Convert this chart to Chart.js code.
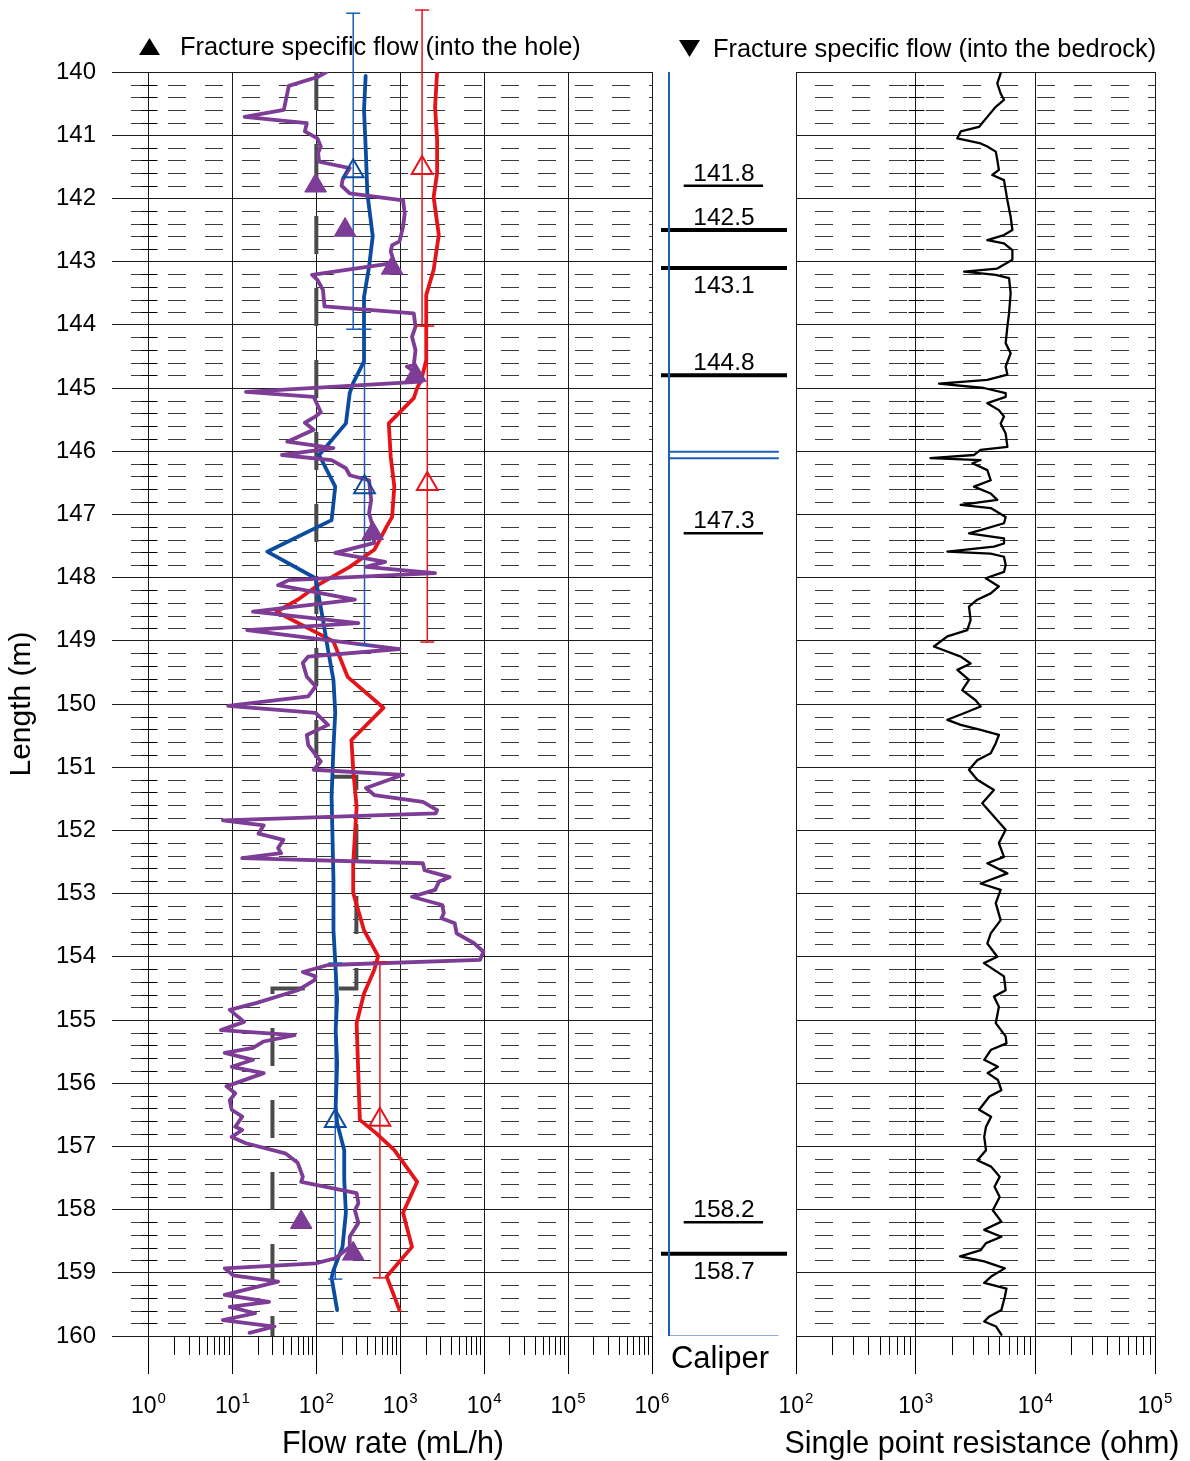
<!DOCTYPE html>
<html><head><meta charset="utf-8">
<script src="https://cdn.jsdelivr.net/npm/chart.js@4.4.1/dist/chart.umd.min.js"></script>
<style>
html,body{margin:0;padding:0;background:#fff;}
#wrap{position:relative;width:1190px;height:1461px;overflow:hidden;background:#fff;}
canvas{position:absolute;top:0;}
</style></head><body>
<div id="wrap">
<canvas id="cFlow" width="680" height="1461" style="left:0px"></canvas>
<canvas id="cCal" width="140" height="1461" style="left:655px"></canvas>
<canvas id="cSpr" width="535" height="1461" style="left:655px"></canvas>
</div>
<script>
// ---------------- DATA ----------------
const lengthTicks = [140,141,142,143,144,145,146,147,148,149,150,151,152,153,154,155,156,157,158,159,160];
const flowTickExp = [0,1,2,3,4,5,6];
const sprTickExp = [2,3,4,5];

const purpleDepth = [140.00,140.08,140.22,140.60,140.71,140.81,140.94,141.05,141.18,141.28,141.42,141.52,141.71,141.80,141.92,142.03,142.24,142.45,142.68,142.74,142.84,143.02,143.21,143.29,143.45,143.71,143.82,144.03,144.19,144.40,144.64,144.66,144.74,144.90,145.06,145.14,145.38,145.45,145.55,145.66,145.85,145.95,146.06,146.14,146.27,146.38,146.46,146.77,146.98,147.19,147.45,147.61,147.75,147.83,147.93,148.04,148.12,148.35,148.54,148.72,148.83,149.13,149.25,149.35,149.57,149.72,149.88,150.03,150.14,150.33,150.49,150.65,150.91,151.04,151.12,151.33,151.44,151.55,151.68,151.73,151.84,151.92,152.05,152.15,152.28,152.36,152.44,152.52,152.63,152.74,152.81,152.94,153.05,153.18,153.31,153.39,153.47,153.63,153.79,153.92,154.05,154.13,154.24,154.31,154.37,154.53,154.73,154.84,155.03,155.16,155.24,155.34,155.44,155.52,155.63,155.74,155.84,156.05,156.16,156.27,156.42,156.53,156.69,156.74,156.85,156.95,157.11,157.26,157.48,157.56,157.74,157.90,158.01,158.21,158.43,158.59,158.77,158.85,158.93,159.04,159.14,159.35,159.46,159.54,159.64,159.75,159.85,159.95];
const purpleFlow = [132,103,47,41,14,77,73,103,113,105,108,250,205,200,250,1080,1130,1080,980,800,770,850,89,103,120,125,1450,1520,1380,1520,1450,1200,1450,1780,14.5,93,113,98,73,93,45,160,39,152,225,250,425,450,425,470,490,168,660,390,2600,47,35,288,17.6,317,15,980,80,69,77,98,80,8.9,98,138,77,80,113,93,1080,390,490,1860,2750,2650,7.7,23.6,20.5,40.5,35,38,13.1,1860,1950,3870,2900,2600,1380,3170,3300,3100,4460,4700,7670,9800,8900,138,69,98,95,60,19.5,9.3,13.8,7.3,55,23.6,17.6,8.1,17.6,9.8,23.6,8.5,10.8,9.3,9.8,13.1,10.8,13.1,9.8,14.5,42.6,60,69,66,302,317,288,317,250,250,168,98,8.1,10.2,35,8.1,27.3,9.3,18.6,7.7,31.7,16];

const blueDepth = [140.06,140.60,141.30,141.92,142.60,143.08,143.56,144.58,144.92,145.08,145.56,146.06,146.56,147.09,147.59,148.01,148.67,149.15,149.62,150.14,150.68,151.47,152.78,153.58,154.08,154.68,155.16,155.68,156.37,156.63,157.06,157.53,158.05,158.59,158.96,159.08,159.59];
const blueFlow = [387,370,390,405,470,425,370,370,275,250,225,108,168,152,26,98,120,138,160,168,160,152,160,160,168,177,170,177,170,177,215,215,225,205,160,152,177];

const redDepth = [140.00,140.55,141.07,141.60,141.98,142.58,143.13,143.53,144.03,144.56,144.87,145.00,145.16,145.56,146.09,146.56,147.04,147.19,147.45,147.56,147.83,148.09,148.35,148.54,149.01,149.57,150.06,150.57,151.04,151.63,152.52,152.99,153.58,153.99,154.21,154.58,155.05,156.58,156.79,157.06,157.56,158.05,158.59,159.06,159.59];
const redFlow = [2750,2600,2750,2750,2500,2880,2500,2040,2040,2040,1780,1590,1450,730,770,850,800,690,545,490,250,113,60,33.5,160,236,630,262,275,302,275,275,370,545,490,370,302,330,515,850,1590,1080,1380,690,980];

const limitDepth = [140, 151.15, 151.15, 154.5, 154.5, 160];
const limitFlow = [100, 100, 300, 300, 30, 30];

const fractureDepth = [141.8, 142.5, 143.1, 144.8, 147.3, 158.2, 158.7];
const fractureFlowIn = [98, 220, 800, 1520, 470, 66, 275];
const fractureClass = ['minor','major','major','major','minor','minor','major'];

const sectionLength = 5;
const blueSectionCenter = [141.57, 146.57, 156.6];
const blueSectionFlow = [275, 375, 168];
const redSectionCenter = [141.52, 146.52, 156.58];
const redSectionFlow = [1820, 2100, 572];

const caliperDepth = [140, 160];
const caliperValue = [0.0635, 0.0635];
const caliperAnomalyDepth = [146.01, 146.11];

const sprDepth = [140.02,140.18,140.34,140.44,140.55,140.71,140.87,140.94,141.05,141.13,141.18,141.26,141.39,141.55,141.63,141.71,141.87,142.03,142.29,142.50,142.58,142.66,142.71,142.82,142.97,143.11,143.16,143.21,143.26,143.50,143.82,144.03,144.29,144.45,144.66,144.79,144.87,144.93,145.00,145.08,145.14,145.24,145.35,145.45,145.56,145.72,145.93,145.98,146.06,146.11,146.14,146.19,146.30,146.46,146.56,146.67,146.77,146.85,146.90,147.04,147.14,147.25,147.30,147.38,147.46,147.51,147.59,147.62,147.67,147.80,147.91,148.01,148.14,148.25,148.35,148.46,148.67,148.83,148.93,149.09,149.25,149.36,149.46,149.62,149.78,149.94,150.04,150.15,150.25,150.33,150.41,150.49,150.62,150.78,150.89,151.04,151.20,151.36,151.57,151.78,151.99,152.20,152.42,152.52,152.68,152.84,152.94,153.15,153.42,153.63,153.79,154.00,154.10,154.31,154.53,154.63,154.79,155.05,155.26,155.37,155.47,155.63,155.74,155.84,155.95,156.11,156.21,156.42,156.53,156.69,156.85,157.06,157.22,157.32,157.48,157.64,157.80,158.01,158.19,158.32,158.43,158.53,158.64,158.74,158.82,158.93,159.06,159.16,159.25,159.38,159.59,159.69,159.77,159.85,159.98];
const sprValue = [5130,4810,5130,5470,4670,3970,3380,2380,2230,3490,3970,4670,4810,4960,4370,5470,5650,5840,6220,6430,5470,3970,5470,6430,6430,4810,2540,4670,6030,6220,6030,5840,5650,6220,5650,5840,3970,1570,3720,5650,5650,3970,4960,5470,5130,5650,5840,3490,3070,1330,3490,2980,3970,4240,3070,4240,4810,2380,4240,5650,5470,3490,2790,5470,5470,4510,1840,4240,5470,5650,5470,3850,4960,4240,3270,2790,2880,2700,1840,1420,2380,2880,2230,2790,2450,3170,3490,2500,1840,2380,3490,4960,4670,4240,3270,2790,3270,4510,3600,4510,5650,4960,5470,3970,5840,3490,5130,4670,5130,4240,3970,4810,3720,5470,5650,4510,4960,4670,5650,5740,4270,3740,4870,4000,4870,5200,4130,3390,4270,3870,3740,3870,3280,4270,5040,4560,5040,4410,5200,3740,5200,3870,3500,2350,3740,5560,4270,3740,5740,5560,5200,4130,3740,4700,5200];

const legendInto = 'Fracture specific flow (into the hole)';
const legendOut = 'Fracture specific flow (into the bedrock)';
const flowTitle = 'Flow rate (mL/h)';
const sprTitle = 'Single point resistance (ohm)';
const lengthTitle = 'Length (m)';
const caliperTitle = 'Caliper';

// ---------------- STYLE ----------------
const FONT = '"Liberation Sans", Arial, Helvetica, sans-serif';
const C_PURPLE = '#7D3C96', C_BLUE = '#0B4CA0', C_BLUE_T = '#1E5FB4', C_RED = '#E5141B', C_GRAY = '#4A4A4A';
Chart.defaults.color = '#000';
Chart.defaults.font.family = FONT;

function pts(depth, vals){ return depth.map((d,i)=>({x: vals[i], y: d})); }

function drawMinorGrid(chart, axisValue){
  const {ctx, chartArea: ca, scales:{x, y}} = chart;
  ctx.save();
  ctx.strokeStyle = '#3a3a3a'; ctx.lineWidth = 1;
  ctx.setLineDash([18,19]); ctx.lineDashOffset = 18;
  for (let i = 1; i < 100; i++) {
    if (i % 5 === 0) continue;
    const py = Math.round(y.getPixelForValue(140 + i * 0.2)) + 0.5;
    ctx.beginPath(); ctx.moveTo(ca.left, py); ctx.lineTo(ca.right, py); ctx.stroke();
  }
  ctx.setLineDash([]);
  const ax = Math.round(x.getPixelForValue(axisValue)) + 0.5;
  ctx.strokeStyle = '#000';
  for (let i = 1; i < 100; i++) {
    if (i % 5 === 0) continue;
    const py = Math.round(y.getPixelForValue(140 + i * 0.2)) + 0.5;
    ctx.beginPath(); ctx.moveTo(ax - 8, py); ctx.lineTo(ax + 8, py); ctx.stroke();
  }
  ctx.restore();
}
function drawMinorTicks(chart, e0, e1){
  const {ctx, chartArea: ca, scales:{x}} = chart;
  ctx.save(); ctx.strokeStyle = '#000'; ctx.lineWidth = 1;
  for (let e = e0; e < e1; e++) for (let m = 2; m <= 9; m++) {
    const px = Math.round(x.getPixelForValue(m * Math.pow(10, e))) + 0.5;
    ctx.beginPath(); ctx.moveTo(px, ca.bottom); ctx.lineTo(px, ca.bottom + 19); ctx.stroke();
  }
  ctx.restore();
}
function drawPowLabels(chart, exps){
  const {ctx, scales:{x}} = chart;
  ctx.save(); ctx.fillStyle = '#000'; ctx.textAlign = 'left'; ctx.textBaseline = 'alphabetic';
  exps.forEach(e => {
    const px = x.getPixelForValue(Math.pow(10, e));
    ctx.font = '23px ' + FONT; const wb = ctx.measureText('10').width;
    ctx.font = '15px ' + FONT; const we = ctx.measureText(String(e)).width;
    const sx = px - (wb + we + 1) / 2;
    ctx.font = '23px ' + FONT; ctx.fillText('10', sx, 1413);
    ctx.font = '15px ' + FONT; ctx.fillText(String(e), sx + wb + 1, 1403);
  });
  ctx.restore();
}
function drawText(ctx, t, x, y, size, align){
  ctx.save(); ctx.fillStyle = '#000'; ctx.font = size + 'px ' + FONT;
  ctx.textAlign = align; ctx.textBaseline = 'alphabetic'; ctx.fillText(t, x, y); ctx.restore();
}
function drawTri(ctx, cx, cy, up){
  ctx.save(); ctx.fillStyle = '#000'; ctx.beginPath();
  if (up) { ctx.moveTo(cx - 10.5, cy + 8.5); ctx.lineTo(cx + 10.5, cy + 8.5); ctx.lineTo(cx, cy - 8.5); }
  else { ctx.moveTo(cx - 10.5, cy - 8.5); ctx.lineTo(cx + 10.5, cy - 8.5); ctx.lineTo(cx, cy + 8.5); }
  ctx.closePath(); ctx.fill(); ctx.restore();
}
function drawErrCaps(chart){
  const ctx = chart.ctx;
  chart.data.datasets.forEach((ds, i) => {
    if (!ds.errBar) return;
    const meta = chart.getDatasetMeta(i);
    ctx.save(); ctx.strokeStyle = ds.borderColor; ctx.lineWidth = 1.5;
    meta.data.forEach(p => { ctx.beginPath(); ctx.moveTo(p.x - 7, p.y); ctx.lineTo(p.x + 7, p.y); ctx.stroke(); });
    ctx.restore();
  });
}

function lineDS(label, data, color, width, extra){
  return Object.assign({label, data, borderColor: color, backgroundColor: color, borderWidth: width,
    pointRadius: 0, tension: 0, borderJoinStyle: 'round', borderCapStyle: 'round'}, extra || {});
}
function errBars(centers, vals, color, label){
  return centers.map((c, i) => lineDS(label + ' section ' + (i+1),
    [{x: vals[i], y: c - sectionLength/2}, {x: vals[i], y: c + sectionLength/2}], color, 1.5, {clip: false, errBar: true}));
}

// ---------------- FLOW CHART ----------------
const flowDatasets = [
  {label: 'Fracture specific flow (into the hole)', data: pts(fractureDepth, fractureFlowIn), showLine: false,
   pointStyle: 'triangle', pointRadius: 12.5, backgroundColor: C_PURPLE, borderColor: C_PURPLE, pointBorderWidth: 1},
  {label: 'Section flow (blue)', data: pts(blueSectionCenter, blueSectionFlow), showLine: false,
   pointStyle: 'triangle', pointRadius: 12, backgroundColor: 'rgba(0,0,0,0)', borderColor: C_BLUE, pointBorderWidth: 2},
  {label: 'Section flow (red)', data: pts(redSectionCenter, redSectionFlow), showLine: false,
   pointStyle: 'triangle', pointRadius: 12, backgroundColor: 'rgba(0,0,0,0)', borderColor: C_RED, pointBorderWidth: 2},
  lineDS('Flow rate (purple)', pts(purpleDepth, purpleFlow), C_PURPLE, 3.8),
  lineDS('Flow rate (blue)', pts(blueDepth, blueFlow), C_BLUE, 3.8),
  lineDS('Flow rate (red)', pts(redDepth, redFlow), C_RED, 3.8),
  ...errBars(blueSectionCenter, blueSectionFlow, C_BLUE_T, 'Blue'),
  ...errBars(redSectionCenter, redSectionFlow, C_RED, 'Red'),
  lineDS('Lower measurement limit', pts(limitDepth, limitFlow), C_GRAY, 4, {borderDash: [38, 34], borderCapStyle: 'butt', borderJoinStyle: 'miter'})
];

new Chart(document.getElementById('cFlow'), {
  type: 'line',
  data: {datasets: flowDatasets},
  options: {
    indexAxis: 'y', responsive: false, animation: false, devicePixelRatio: 1,
    layout: {autoPadding: false, padding: {top: 72, right: 28, left: 0, bottom: 0}},
    plugins: {legend: {display: false}, tooltip: {enabled: false}},
    scales: {
      x: {type: 'logarithmic', position: 'bottom', min: Math.pow(10, -0.435), max: 1e6,
          afterBuildTicks: s => { s.ticks = flowTickExp.map(e => ({value: Math.pow(10, e)})); },
          ticks: {display: false},
          grid: {color: '#1a1a1a', lineWidth: 1, drawTicks: true, tickLength: 38, tickColor: '#000'},
          border: {display: false},
          afterFit: s => { s.height = 125; }},
      y: {type: 'linear', min: 140, max: 160, reverse: true,
          afterBuildTicks: s => { s.ticks = lengthTicks.map(v => ({value: v})); },
          ticks: {font: {size: 24}, color: '#000', padding: 16},
          grid: {color: '#1a1a1a', lineWidth: 1, drawTicks: false},
          border: {display: false},
          title: {display: true, text: lengthTitle, font: {size: 30}, color: '#000', padding: {top: 4, bottom: 0}},
          afterFit: s => { s.width = 112; }}
    }
  },
  plugins: [{
    id: 'flowDecor',
    beforeDatasetsDraw(chart){ drawMinorGrid(chart, 1); },
    afterDatasetsDraw(chart){ drawErrCaps(chart); },
    afterDraw(chart){
      drawMinorTicks(chart, 0, 6);
      drawPowLabels(chart, flowTickExp);
      drawText(chart.ctx, flowTitle, 393, 1453, 30.5, 'center');
      drawTri(chart.ctx, 149.5, 46.5, true);
      drawText(chart.ctx, legendInto, 180, 55, 25.4, 'left');
    }
  }]
});

// ---------------- CALIPER CHART ----------------
const FRAC_SPAN = {major: [0, 1], minor: [0.18, 0.81]};
const FRAC_W = {major: 4, minor: 2.5};
const calDatasets = [
  lineDS('Caliper', pts(caliperDepth, caliperValue), C_BLUE_T, 2),
  lineDS('Caliper base', [{x: caliperValue[1], y: caliperDepth[1]}, {x: 0.929, y: caliperDepth[1]}], C_BLUE_T, 1.2),
  ...caliperAnomalyDepth.map(d => lineDS('Caliper anomaly', [{x: caliperValue[0], y: d}, {x: 0.929, y: d}], C_BLUE_T, 2)),
  ...fractureDepth.map((d, i) => lineDS('Fracture ' + d.toFixed(1),
    [{x: FRAC_SPAN[fractureClass[i]][0], y: d}, {x: FRAC_SPAN[fractureClass[i]][1], y: d}], '#000', FRAC_W[fractureClass[i]], {borderCapStyle: 'butt'}))
];
new Chart(document.getElementById('cCal'), {
  type: 'line',
  data: {datasets: calDatasets},
  options: {
    indexAxis: 'y', responsive: false, animation: false, devicePixelRatio: 1,
    layout: {autoPadding: false, padding: {top: 72, right: 8, left: 6, bottom: 125}},
    plugins: {legend: {display: false}, tooltip: {enabled: false}},
    scales: {
      x: {type: 'linear', min: 0, max: 1, display: false},
      y: {type: 'linear', min: 140, max: 160, reverse: true, display: false}
    }
  },
  plugins: [{
    id: 'calDecor',
    afterDraw(chart){
      const {ctx, scales: {x, y}} = chart;
      const cx = x.getPixelForValue(0.5);
      fractureDepth.forEach((d, i) => {
        const py = y.getPixelForValue(d);
        const below = i > 0 && (d - fractureDepth[i-1]) < 0.65;
        drawText(ctx, d.toFixed(1), cx, below ? py + 25 : py - 5, 24.5, 'center');
      });
      drawText(ctx, caliperTitle, 720 - 655, 1368, 31, 'center');
    }
  }]
});

// ---------------- SPR CHART ----------------
new Chart(document.getElementById('cSpr'), {
  type: 'line',
  data: {datasets: [lineDS('Single point resistance', pts(sprDepth, sprValue), '#000', 2.3)]},
  options: {
    indexAxis: 'y', responsive: false, animation: false, devicePixelRatio: 1,
    layout: {autoPadding: false, padding: {top: 72, right: 35, left: 0, bottom: 0}},
    plugins: {legend: {display: false}, tooltip: {enabled: false}},
    scales: {
      x: {type: 'logarithmic', position: 'bottom', min: 100, max: 1e5,
          afterBuildTicks: s => { s.ticks = sprTickExp.map(e => ({value: Math.pow(10, e)})); },
          ticks: {display: false},
          grid: {color: '#1a1a1a', lineWidth: 1, drawTicks: true, tickLength: 38, tickColor: '#000'},
          border: {display: false},
          afterFit: s => { s.height = 125; }},
      y: {type: 'linear', min: 140, max: 160, reverse: true,
          afterBuildTicks: s => { s.ticks = lengthTicks.map(v => ({value: v})); },
          ticks: {display: false},
          grid: {color: '#1a1a1a', lineWidth: 1, drawTicks: false},
          border: {display: false},
          afterFit: s => { s.width = 141; }}
    }
  },
  plugins: [{
    id: 'sprDecor',
    beforeDatasetsDraw(chart){ drawMinorGrid(chart, 1000); },
    afterDraw(chart){
      drawMinorTicks(chart, 2, 5);
      drawPowLabels(chart, sprTickExp);
      drawText(chart.ctx, sprTitle, 982 - 655, 1453, 30.5, 'center');
      drawTri(chart.ctx, 689.5 - 655, 48.5, false);
      drawText(chart.ctx, legendOut, 713 - 655, 57, 25.4, 'left');
    }
  }]
});
</script>
</body></html>
